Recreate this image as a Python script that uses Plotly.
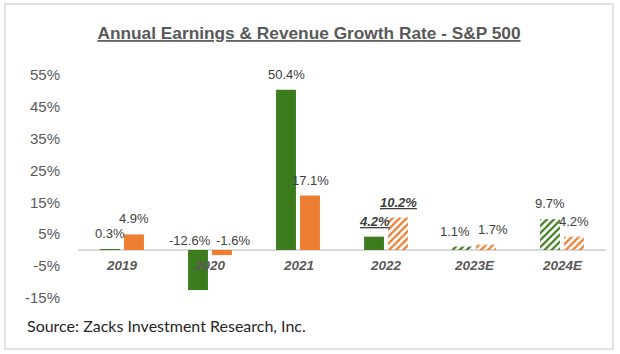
import plotly.graph_objects as go

categories = ["2019", "2020", "2021", "2022", "2023E", "2024E"]
earnings = [0.3, -12.6, 50.4, 4.2, 1.1, 9.7]
revenue = [4.9, -1.6, 17.1, 10.2, 1.7, 4.2]
earnings_hatched = [False, False, False, False, True, True]
revenue_hatched = [False, False, False, True, True, True]
earnings_emph = [False, False, False, True, False, False]
revenue_emph = [False, False, False, True, False, False]
tick_vals = [-15, -5, 5, 15, 25, 35, 45, 55]
tick_text = ["-15%", "-5%", "5%", "15%", "25%", "35%", "45%", "55%"]

GREEN = "#3d7b1f"
ORANGE = "#ed7d31"
GRAY = "#595959"
FONT = "Liberation Sans, Arial, sans-serif"


def bar(name, vals, hatched, color):
    n = len(vals)
    return go.Bar(
        name=name, x=categories, y=vals,
        marker=dict(
            color=[color] * n,
            line=dict(width=0),
            pattern=dict(shape=[("/" if h else "") for h in hatched],
                         fgcolor=[color] * n, bgcolor=["white"] * n,
                         size=5, solidity=0.45, fillmode="replace"),
        ),
        hoverinfo="skip",
    )


fig = go.Figure([bar("Earnings", earnings, earnings_hatched, GREEN),
                 bar("Revenue", revenue, revenue_hatched, ORANGE)])

annotations = []
for i, c in enumerate(categories):
    neg = earnings[i] < 0 or revenue[i] < 0
    close = abs(earnings[i] - revenue[i]) < 3
    for vals, emph, side in ((earnings, earnings_emph, -1), (revenue, revenue_emph, 1)):
        v = vals[i]
        txt = f"{v:.1f}%"
        if emph[i]:
            txt = f"<b><i><u>{txt}</u></i></b>"
        if neg:
            xanchor = "right" if side < 0 else "left"
            xshift = 3 if side < 0 else 4
            yshift = 0
        else:
            xanchor = "center"
            xshift = (19 if close else 12) * side
            yshift = 6
        annotations.append(dict(
            x=i, y=max(v, 0), xref="x", yref="y", text=txt, showarrow=False,
            xanchor=xanchor, yanchor="bottom", xshift=xshift, yshift=yshift,
            font=dict(family=FONT, size=13, color="#404040"),
        ))
    annotations.append(dict(
        x=i, y=0, xref="x", yref="y", text=f"<b><i>{c}</i></b>", showarrow=False,
        xanchor="center", yanchor="top", yshift=-6,
        font=dict(family=FONT, size=13.5, color=GRAY),
    ))

L, R, T, B = 78, 14, 66, 53
W, H = 620, 354
pw, ph = W - L - R, H - T - B

annotations.append(dict(
    x=(25 - L) / pw, y=(H - B - 325) / ph, xref="paper", yref="paper",
    text="Source: Zacks Investment Research, Inc.",
    showarrow=False, xanchor="left", yanchor="middle",
    font=dict(family="Lato, sans-serif", size=16, color="#262626"),
))

fig.update_layout(
    width=W, height=H,
    margin=dict(l=L, r=R, t=T, b=B),
    paper_bgcolor="white", plot_bgcolor="white",
    barmode="group", bargap=0.455, bargroupgap=0.17,
    showlegend=False,
    title=dict(text="<b><u>Annual Earnings & Revenue Growth Rate - S&P 500</u></b>",
               x=309 / W, xref="container", xanchor="center",
               y=1 - 33 / H, yref="container", yanchor="middle",
               font=dict(family=FONT, size=17.3, color=GRAY)),
    xaxis=dict(type="category", range=[-0.5, len(categories) - 0.5],
               showticklabels=False, showgrid=False, zeroline=False,
               showline=False, ticks=""),
    yaxis=dict(range=[-16.04, 57.86], tickvals=tick_vals, ticktext=tick_text,
               showgrid=False, zeroline=True, zerolinecolor="#d9d9d9", zerolinewidth=2,
               showline=False, ticks="", ticklabelstandoff=17,
               tickfont=dict(family=FONT, size=15, color=GRAY)),
    annotations=annotations,
    shapes=[dict(type="rect", xref="paper", yref="paper",
                 x0=(5 - L) / pw, x1=(613 - L) / pw,
                 y0=(H - B - 349) / ph, y1=(H - B - 4) / ph,
                 line=dict(color="#d9d9d9", width=1.5), layer="above")],
)

fig.write_html("out.html")
